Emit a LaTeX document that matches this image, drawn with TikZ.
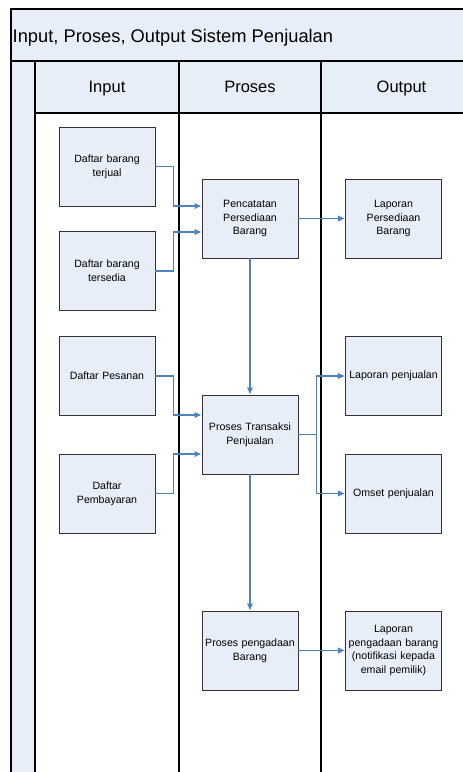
\documentclass[tikz,border=0pt]{standalone}
\usepackage{fontspec}
\setmainfont{Liberation Sans}
\usepackage{tikz}
\usetikzlibrary{arrows.meta}

\definecolor{isi}{HTML}{E8EEF8}
\definecolor{biru}{HTML}{4F81BD}
\definecolor{tepi}{HTML}{333333}

\begin{document}
\begin{tikzpicture}[x=1pt, y=-1pt]
	\tikzset{kotak/.style={rectangle, draw=tepi, fill=isi, line width=0.9pt, minimum width=96pt, minimum height=79pt, text width=92pt, inner sep=2pt, align=center, font=\fontsize{10.6}{13.7}\selectfont},
	panah/.style={draw=biru, line width=1.1pt, >={Latex[length=7pt, width=6.5pt]}},
	garis/.style={draw=black, line width=1.1pt}};

	\useasboundingbox (0,0) rectangle (463,772);
	\clip (0,0) rectangle (463,772);

	\fill[isi] (11,9) rectangle (480,113);
	\fill[isi] (11,113) rectangle (35,780);
	\draw[garis] (480,9) -- (11,9) -- (11,780);
	\draw[garis] (11,61) -- (480,61);
	\draw[garis] (35,113) -- (480,113);
	\foreach \x in {35,179,321}{
		\draw[garis] (\x,61) -- (\x,780);
	}

	\node[anchor=base west, inner sep=0pt, font=\fontsize{18.3}{22}\selectfont] (judul) at (12.5,42.5) {Input, Proses, Output Sistem Penjualan};
	\foreach \name/\x/\teks in {input/107/Input, proses/250/Proses, output/401.5/Output}{
		\node[anchor=base, inner sep=0pt, font=\fontsize{16.5}{20}\selectfont] (h-\name) at (\x,92.5) {\teks};
	}

	\foreach \name/\x/\y/\teks in {terjual/107/166.5/{Daftar barang\\terjual}, tersedia/107/271/{Daftar barang\\tersedia},
		pesanan/107/376/{Daftar Pesanan}, bayar/107/493.5/{Daftar\\Pembayaran},
		catat/250/218.5/{Pencatatan\\Persediaan\\Barang}, transaksi/250/434.5/{Proses Transaksi\\Penjualan},
		pengadaan/250/650.5/{Proses pengadaan\\Barang},
		lap-sedia/393.5/218.5/{Laporan\\Persediaan\\Barang}, lap-jual/393.5/376/{Laporan penjualan},
		omset/393.5/493.5/{Omset penjualan}, lap-adaan/393.5/650.5/{Laporan\\pengadaan barang\\(notifikasi kepada\\email pemilik)}}{
		\node[kotak] (\name) at (\x,\y) {\teks};
	}

	\draw[panah, ->] (terjual.east) -- ++(18,0) |- ([yshift=12.5pt]catat.west);
	\draw[panah, ->] (tersedia.east) -- ++(18,0) |- ([yshift=-13.5pt]catat.west);
	\draw[panah, ->] (catat) -- (lap-sedia);
	\draw[panah, ->] (catat) -- (transaksi);
	\draw[panah, ->] (pesanan.east) -- ++(18,0) |- ([yshift=19.5pt]transaksi.west);
	\draw[panah, ->] (bayar.east) -- ++(18,0) |- ([yshift=-19.5pt]transaksi.west);
	\draw[panah, ->] (transaksi.east) -- ++(18,0) |- (lap-jual.west);
	\draw[panah, ->] (transaksi.east) -- ++(18,0) |- (omset.west);
	\draw[panah, ->] (transaksi) -- (pengadaan);
	\draw[panah, ->] (pengadaan) -- (lap-adaan);

\end{tikzpicture}
\end{document}
